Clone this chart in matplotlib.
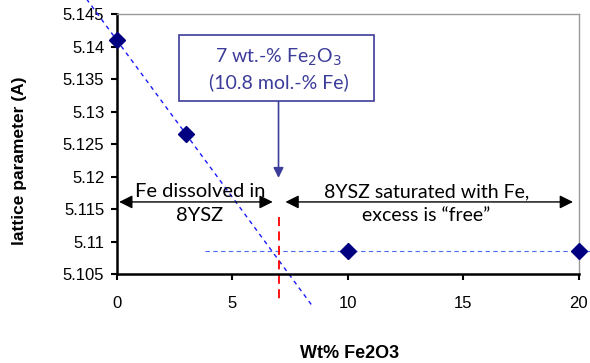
import numpy as np
import matplotlib.pyplot as plt
from matplotlib.patches import Rectangle

### Data
wt_fe2o3 = [0, 3, 10, 20]
lattice = [5.141, 5.1265, 5.1085, 5.1085]

x_ticks = [0, 5, 10, 15, 20]
y_ticks = [5.105, 5.11, 5.115, 5.12, 5.125, 5.13, 5.135, 5.14, 5.145]

sat_wt = 7.0          # saturation limit, wt.-% Fe2O3
plateau = 5.1085      # lattice parameter beyond saturation

### Trend line through the first two points
slope = (lattice[1] - lattice[0]) / (wt_fe2o3[1] - wt_fe2o3[0])
trend_x = np.array([-1.4, 8.5])
trend_y = lattice[0] + slope * trend_x

fig = plt.figure(figsize=(5.9, 3.63), dpi=100)
ax = fig.add_axes([0.198, 0.245, 0.783, 0.716])

text_font = "Lato"
box_color = "#3c3c9a"

ax.plot(trend_x, trend_y, color="#1a1aff", ls=(0, (3, 3)), lw=1.0, clip_on=False)
ax.plot([3.8, 21], [plateau, plateau], color="#4a6cf0", ls=(0, (4, 3)), lw=0.8,
        clip_on=False)
ax.plot([sat_wt, sat_wt], [5.1138, 5.1007], color="red", ls=(0, (5, 3)), lw=1.3,
        clip_on=False)
ax.plot(wt_fe2o3, lattice, ls="none", marker="D", ms=8, color="#000080",
        clip_on=False, zorder=5)

### Annotation box with arrow
box = Rectangle((2.68, 5.1316), 11.13 - 2.68, 5.1418 - 5.1316, fc="white",
                ec=box_color, lw=1.2, zorder=6)
ax.add_patch(box)
ax.text(sat_wt, 5.1365, "7 wt.-% Fe$_2$O$_3$\n(10.8 mol.-% Fe)", ha="center",
        va="center", color=box_color, fontsize=14, family=text_font,
        linespacing=1.35, zorder=7)
ax.annotate("", xy=(sat_wt, 5.1198), xytext=(sat_wt, 5.1316),
            arrowprops=dict(arrowstyle="-|>", color=box_color, lw=1.2,
                            mutation_scale=15, shrinkA=0, shrinkB=0))

### Double arrows with region labels
arrow_y = 5.1161
ax.annotate("", xy=(0.1, arrow_y), xytext=(6.75, arrow_y),
            arrowprops=dict(arrowstyle="<|-|>", color="black", lw=1.0,
                            mutation_scale=20, shrinkA=0, shrinkB=0))
ax.annotate("", xy=(7.3, arrow_y), xytext=(19.75, arrow_y),
            arrowprops=dict(arrowstyle="<|-|>", color="black", lw=1.0,
                            mutation_scale=20, shrinkA=0, shrinkB=0))
ax.text(3.6, 5.11585, "Fe dissolved in\n8YSZ", ha="center", va="center",
        fontsize=14.5, family=text_font, linespacing=1.45)
ax.text(13.4, 5.11585, "8YSZ saturated with Fe,\nexcess is \u201cfree\u201d",
        ha="center", va="center", fontsize=14, family=text_font, linespacing=1.5)

### Axes styling
ax.set_xlim(0, 20)
ax.set_ylim(5.105, 5.145)
ax.set_xticks(x_ticks)
ax.set_yticks(y_ticks)
ax.set_yticklabels([f"{v:g}" for v in y_ticks])
ax.tick_params(direction="out", length=4, width=1.5, color="black", pad=5,
               labelsize=12, labelfontfamily="Liberation Sans")
ax.tick_params(axis="x", pad=12)

for side in ["left", "bottom"]:
    ax.spines[side].set_linewidth(1.8)
    ax.spines[side].set_color("black")
for side in ["top", "right"]:
    ax.spines[side].set_linewidth(1.0)
    ax.spines[side].set_color("#999999")

ax.set_xlabel("Wt% Fe2O3", family="Liberation Sans", fontsize=13,
              fontweight="bold", va="center")
ax.xaxis.set_label_coords(0.503, -0.305)
ax.set_ylabel("lattice parameter (A)", family="Liberation Sans", fontsize=12.5,
              fontweight="bold", va="center")
ax.yaxis.set_label_coords(-0.211, 0.435)

fig.savefig("out.png", dpi=100)
